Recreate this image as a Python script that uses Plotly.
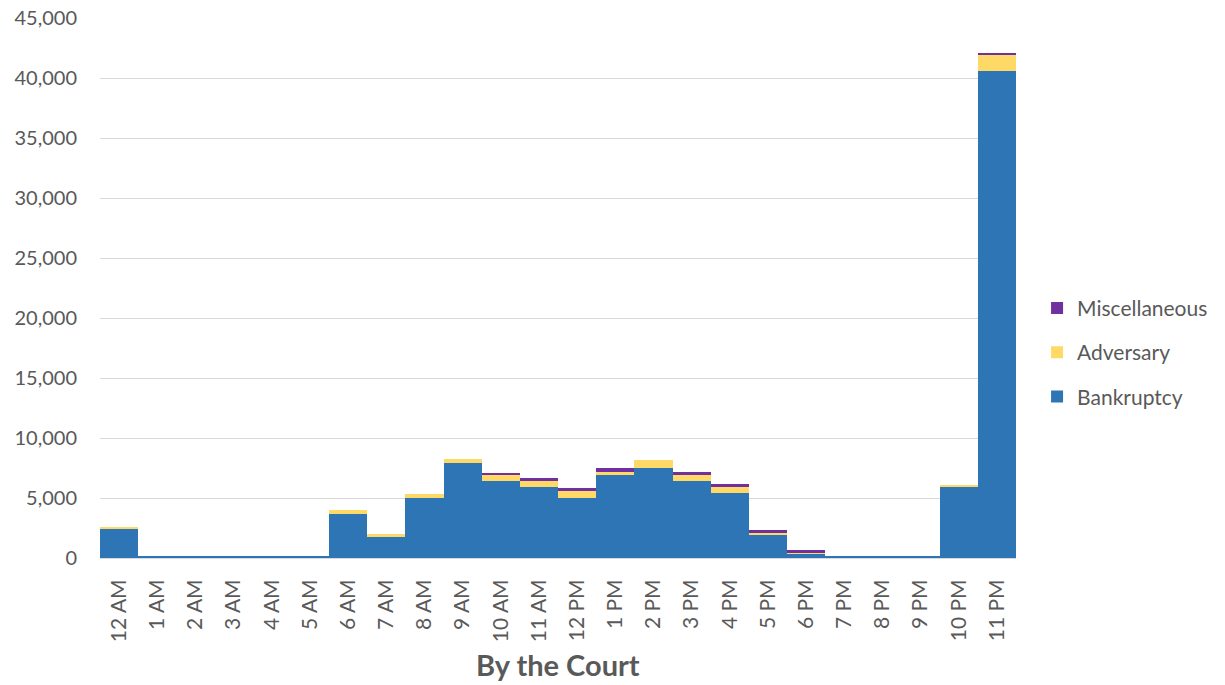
import plotly.graph_objects as go

hours = ["12 AM", "1 AM", "2 AM", "3 AM", "4 AM", "5 AM", "6 AM", "7 AM",
         "8 AM", "9 AM", "10 AM", "11 AM", "12 PM", "1 PM", "2 PM", "3 PM",
         "4 PM", "5 PM", "6 PM", "7 PM", "8 PM", "9 PM", "10 PM", "11 PM"]

bankruptcy = [2380, 110, 100, 100, 100, 100, 3700, 1720, 5040, 7900, 6380, 5880,
              5040, 6880, 7540, 6380, 5380, 1880, 400, 100, 100, 100, 5900, 40600]
adversary = [230, 0, 0, 0, 0, 0, 260, 240, 260, 370, 500, 500,
             530, 320, 590, 500, 500, 220, 40, 0, 0, 0, 200, 1300]
miscellaneous = [0, 0, 0, 0, 0, 0, 0, 0, 0, 0, 220, 250,
                 230, 260, 0, 250, 250, 200, 190, 0, 0, 0, 0, 200]

font_family = "Lato, 'Open Sans', sans-serif"
grey_text = "#595959"

fig = go.Figure()
# (name, values, colour, legend rank) - stacked bottom to top, listed top to bottom
series = [
    ("Bankruptcy", bankruptcy, "#2E75B6", 3),
    ("Adversary", adversary, "#FFD966", 2),
    ("Miscellaneous", miscellaneous, "#7030A0", 1),
]
for name, vals, color, rank in series:
    fig.add_trace(go.Bar(
        name=name, x=hours, y=vals,
        marker=dict(color=color, line=dict(width=0)),
        legendgroup=name,
        legendrank=rank,
    ))

fig.update_layout(
    barmode="stack",
    bargap=0,
    width=1225, height=685,
    margin=dict(l=100, r=209, t=18, b=127, autoexpand=False),
    paper_bgcolor="white",
    plot_bgcolor="white",
    font=dict(family=font_family, size=16, color=grey_text),
    legend=dict(
        traceorder="grouped",
        tracegroupgap=14,
        x=1.023, xanchor="left",
        y=0.381, yanchor="middle",
        font=dict(size=21, color=grey_text),
        bgcolor="rgba(0,0,0,0)",
    ),
    xaxis=dict(
        tickangle=-90,
        showline=True, linecolor="#d9d9d9", linewidth=1,
        showgrid=False, ticks="",
        ticklabelstandoff=12,
        automargin=False,
        tickfont=dict(size=21, color=grey_text),
    ),
    yaxis=dict(
        range=[0, 45000],
        dtick=5000,
        tickformat=",",
        showgrid=True, gridcolor="#d9d9d9", gridwidth=1,
        zeroline=False,
        ticks="", ticklen=0,
        ticklabelstandoff=22,
        automargin=False,
        tickfont=dict(size=20, color=grey_text),
    ),
    annotations=[dict(
        text="<b>By the Court</b>",
        x=0.5, xref="paper",
        y=-0.198, yref="paper",
        xanchor="center", yanchor="middle",
        showarrow=False,
        font=dict(size=29, color=grey_text, family=font_family),
    )],
)

fig.write_html("out.html")
